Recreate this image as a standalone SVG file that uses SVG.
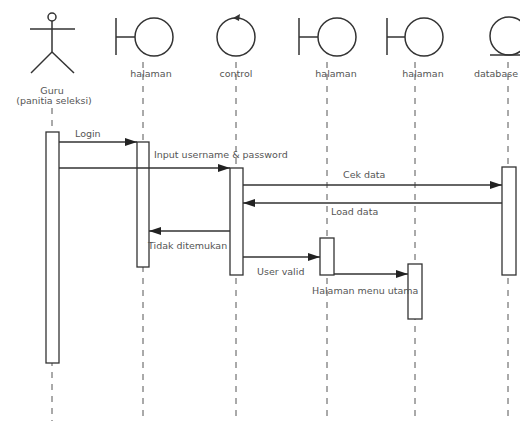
<svg xmlns="http://www.w3.org/2000/svg" width="520" height="421" viewBox="0 0 520 421">
<style>
.ic{fill:none;stroke:#333;stroke-width:1.5}
.ll{stroke:#555;stroke-width:1;stroke-dasharray:6 6;fill:none}
.act{fill:#fff;stroke:#333;stroke-width:1.3}
.msg{stroke:#333;stroke-width:1.3;fill:none;marker-end:url(#ah)}
text{font-family:"DejaVu Sans","Liberation Sans",sans-serif;font-size:9.5px;fill:#555}
.c{text-anchor:middle}
</style>
<defs>
<marker id="ah" markerWidth="12" markerHeight="8" refX="12" refY="4" orient="auto" markerUnits="userSpaceOnUse">
<path d="M0,0 L12,4 L0,8 Z" fill="#222"/>
</marker>
</defs>
<rect width="520" height="421" fill="#fff"/>
<g id="lifelines">
<line class="ll" x1="52" y1="108" x2="52" y2="421"/>
<line class="ll" x1="143" y1="62" x2="143" y2="421"/>
<line class="ll" x1="236" y1="62" x2="236" y2="421"/>
<line class="ll" x1="327" y1="62" x2="327" y2="421"/>
<line class="ll" x1="415" y1="62" x2="415" y2="421"/>
<line class="ll" x1="508" y1="62" x2="508" y2="421"/>
</g>
<g id="guru">
<circle class="ic" cx="52" cy="17" r="4"/>
<line class="ic" x1="52" y1="21" x2="52" y2="52"/>
<line class="ic" x1="30" y1="29" x2="75" y2="29"/>
<line class="ic" x1="52" y1="52" x2="31" y2="73"/>
<line class="ic" x1="52" y1="52" x2="74" y2="73"/>
<text class="c" x="52" y="94">Guru</text>
<text class="c" x="54" y="104">(panitia seleksi)</text>
</g>
<g id="halaman1">
<line class="ic" x1="116" y1="18" x2="116" y2="55"/>
<line class="ic" x1="116" y1="37" x2="135" y2="37"/>
<circle class="ic" cx="154" cy="37" r="19"/>
<text class="c" x="151" y="77">halaman</text>
</g>
<g id="control">
<circle class="ic" cx="236" cy="37" r="19"/>
<path d="M233,18 L240,14 L239,21 Z" fill="#333"/>
<text class="c" x="236" y="77">control</text>
</g>
<g id="halaman2">
<line class="ic" x1="299" y1="18" x2="299" y2="55"/>
<line class="ic" x1="299" y1="37" x2="318" y2="37"/>
<circle class="ic" cx="337" cy="37" r="19"/>
<text class="c" x="336" y="77">halaman</text>
</g>
<g id="halaman3">
<line class="ic" x1="387" y1="18" x2="387" y2="55"/>
<line class="ic" x1="387" y1="37" x2="405" y2="37"/>
<circle class="ic" cx="424" cy="37" r="19"/>
<text class="c" x="423" y="77">halaman</text>
</g>
<g id="database">
<circle class="ic" cx="509" cy="36" r="19"/>
<line class="ic" x1="490" y1="55" x2="520" y2="55"/>
<text x="518" y="77" text-anchor="end">database</text>
</g>
<g id="activations">
<rect class="act" x="46" y="132" width="13" height="231"/>
<rect class="act" x="137" y="142" width="12" height="125"/>
<rect class="act" x="230" y="168" width="13" height="107"/>
<rect class="act" x="502" y="167" width="14" height="108"/>
<rect class="act" x="320" y="238" width="14" height="37"/>
<rect class="act" x="408" y="264" width="14" height="55"/>
</g>
<g id="connectors">
<line class="msg" x1="59" y1="142" x2="137" y2="142"/>
<line class="msg" x1="59" y1="168" x2="230" y2="168"/>
<line class="msg" x1="243" y1="185" x2="502" y2="185"/>
<line class="msg" x1="502" y1="203" x2="243" y2="203"/>
<line class="msg" x1="230" y1="231" x2="149" y2="231"/>
<line class="msg" x1="243" y1="257" x2="320" y2="257"/>
<line class="msg" x1="334" y1="274" x2="408" y2="274"/>
</g>
<g id="labels">
<text x="75" y="137">Login</text>
<text x="154" y="158">Input username &amp; password</text>
<text x="343" y="178">Cek data</text>
<text x="331" y="215">Load data</text>
<text x="148" y="249">Tidak ditemukan</text>
<text x="257" y="275">User valid</text>
<text x="312" y="294">Halaman menu utama</text>
</g>
</svg>
